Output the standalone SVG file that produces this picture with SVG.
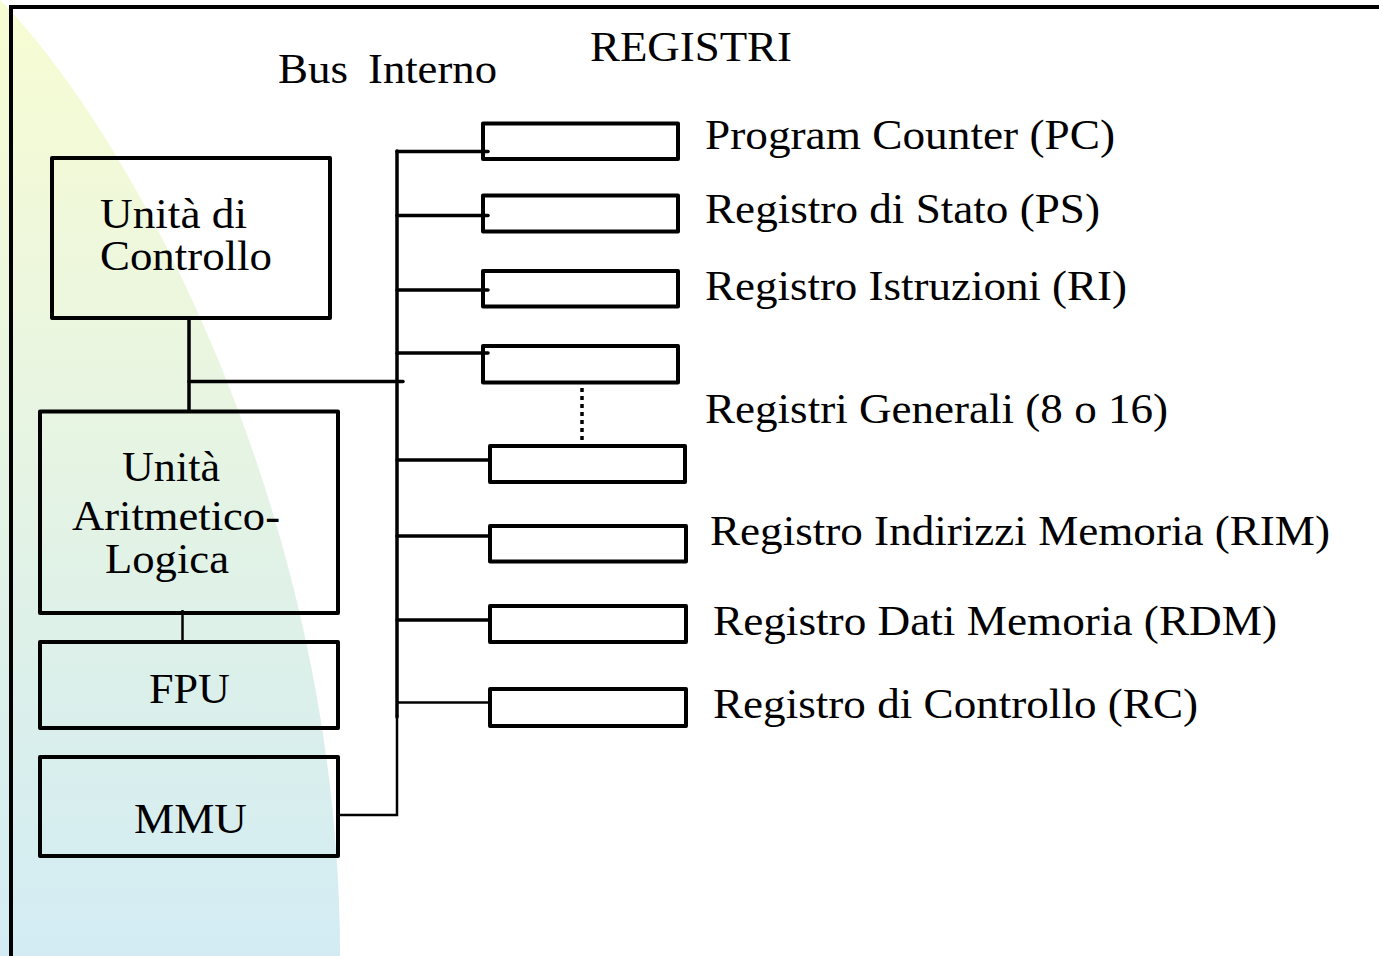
<svg xmlns="http://www.w3.org/2000/svg" width="1379" height="956" viewBox="0 0 1379 956">
  <defs>
    <linearGradient id="bgGrad" x1="0" y1="0" x2="0" y2="1">
      <stop offset="0" stop-color="#f7fcd2"/>
      <stop offset="0.35" stop-color="#ebf6df"/>
      <stop offset="0.7" stop-color="#dcf0ea"/>
      <stop offset="1" stop-color="#d3ecf4"/>
    </linearGradient>
    <style>
      .box { fill: none; stroke: #000; stroke-width: 4; stroke-linejoin: round; }
      .wire { fill: none; stroke: #000; stroke-width: 3.5; stroke-linecap: round; }
      .thin { fill: none; stroke: #000; stroke-width: 2.5; }
      .dots { fill: none; stroke: #000; stroke-width: 3.5; stroke-dasharray: 4 4; }
      .lbl { font-family: "Liberation Serif", "Times New Roman", serif; font-size: 43px; fill: #000; }
      .tight { font-size: 42px; }
    </style>
  </defs>

  <rect width="1379" height="956" fill="#ffffff"/>

  <!-- shaded backdrop on the left -->
  <path d="M0,0 C120,120 340,500 340,956 L0,956 Z" fill="url(#bgGrad)"/>

  <!-- outer frame -->
  <path d="M11,960 V7 H1385" fill="none" stroke="#000" stroke-width="4"/>

  <!-- headings -->
  <text class="lbl"><tspan x="278" y="83" textLength="70" lengthAdjust="spacingAndGlyphs">Bus</tspan><tspan x="368" y="83" textLength="129" lengthAdjust="spacingAndGlyphs">Interno</tspan></text>
  <text class="lbl" x="590" y="61" textLength="202" lengthAdjust="spacingAndGlyphs">REGISTRI</text>

  <!-- connectors -->
  <g id="connectors">
    <!-- internal bus -->
    <path class="wire" d="M397,151 V717"/>
    <path class="thin" d="M397,715 V815 H339"/>
    <!-- control unit / ALU to bus -->
    <path class="wire" d="M189,318 V411"/>
    <path class="wire" d="M189,381.5 H403"/>
    <!-- ALU to FPU -->
    <path class="thin" d="M182.5,610 V643"/>
    <!-- bus to registers -->
    <path class="wire" d="M397,151.5 H488"/>
    <path class="wire" d="M397,215.5 H488"/>
    <path class="wire" d="M397,290 H488"/>
    <path class="wire" d="M397,353 H488"/>
    <path class="wire" d="M397,460 H490"/>
    <path class="wire" d="M397,536 H490"/>
    <path class="wire" d="M397,620 H490"/>
    <path class="thin" d="M397,702.5 H490"/>
    <!-- ellipsis between general registers -->
    <path class="dots" d="M582,388 V444"/>
  </g>

  <g id="control-unit">
    <rect class="box" x="52" y="158" width="278" height="160"/>
    <text class="lbl tight"><tspan x="100" y="228" textLength="147" lengthAdjust="spacingAndGlyphs">Unità di</tspan><tspan x="100" y="270" textLength="172" lengthAdjust="spacingAndGlyphs">Controllo</tspan></text>
  </g>

  <g id="alu">
    <rect class="box" x="40" y="411.5" width="298" height="201.5"/>
    <text class="lbl tight"><tspan x="122" y="481" textLength="98" lengthAdjust="spacingAndGlyphs">Unità</tspan><tspan x="72" y="530" textLength="208" lengthAdjust="spacingAndGlyphs">Aritmetico-</tspan><tspan x="105" y="573" textLength="124" lengthAdjust="spacingAndGlyphs">Logica</tspan></text>
  </g>

  <g id="fpu">
    <rect class="box" x="40" y="642" width="298" height="86"/>
    <text class="lbl" x="149" y="703" textLength="81" lengthAdjust="spacingAndGlyphs">FPU</text>
  </g>

  <g id="mmu">
    <rect class="box" x="40" y="757" width="298" height="99"/>
    <text class="lbl" x="134" y="833" textLength="113" lengthAdjust="spacingAndGlyphs">MMU</text>
  </g>

  <g id="reg-pc">
    <rect class="box" x="483" y="123.5" width="195" height="35.5"/>
    <text class="lbl" x="705" y="149" textLength="410" lengthAdjust="spacingAndGlyphs">Program Counter (PC)</text>
  </g>

  <g id="reg-ps">
    <rect class="box" x="483" y="195.5" width="195" height="36"/>
    <text class="lbl" x="705" y="223" textLength="395" lengthAdjust="spacingAndGlyphs">Registro di Stato (PS)</text>
  </g>

  <g id="reg-ri">
    <rect class="box" x="483" y="271" width="195" height="35.5"/>
    <text class="lbl" x="705" y="300" textLength="422" lengthAdjust="spacingAndGlyphs">Registro Istruzioni (RI)</text>
  </g>

  <g id="reg-general">
    <rect class="box" x="483" y="346" width="195" height="36.5"/>
    <rect class="box" x="490" y="446" width="195" height="36"/>
    <text class="lbl" x="705" y="423" textLength="463" lengthAdjust="spacingAndGlyphs">Registri Generali (8 o 16)</text>
  </g>

  <g id="reg-rim">
    <rect class="box" x="490" y="526" width="196" height="35.5"/>
    <text class="lbl" x="710" y="545" textLength="620" lengthAdjust="spacingAndGlyphs">Registro Indirizzi Memoria (RIM)</text>
  </g>

  <g id="reg-rdm">
    <rect class="box" x="490" y="606" width="196" height="36"/>
    <text class="lbl" x="713" y="635" textLength="564" lengthAdjust="spacingAndGlyphs">Registro Dati Memoria (RDM)</text>
  </g>

  <g id="reg-rc">
    <rect class="box" x="490" y="689" width="196" height="37"/>
    <text class="lbl" x="713" y="718" textLength="485" lengthAdjust="spacingAndGlyphs">Registro di Controllo (RC)</text>
  </g>
</svg>
